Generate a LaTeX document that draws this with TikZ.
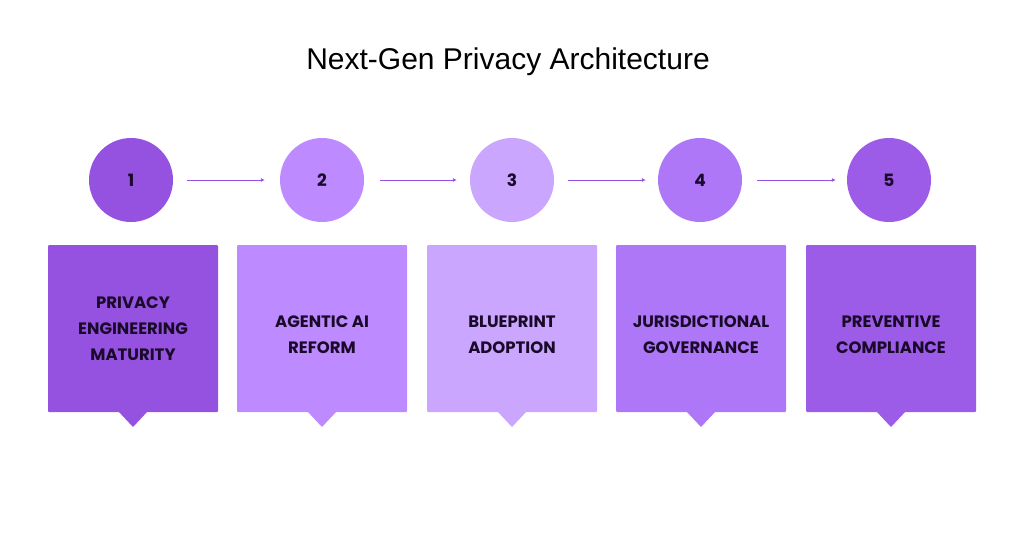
\documentclass[tikz,border=0pt]{standalone}
\usepackage{fontspec}
\setmainfont{Liberation Sans}
\newfontfamily\boxfont{Poppins}
\usetikzlibrary{arrows.meta}
\definecolor{c1}{HTML}{9552E0}
\definecolor{c2}{HTML}{BD8AFF}
\definecolor{c3}{HTML}{CBA6FF}
\definecolor{c4}{HTML}{AE77F8}
\definecolor{c5}{HTML}{9D5CE8}
\definecolor{ink}{HTML}{1A0A2A}
\begin{document}
\begin{tikzpicture}[x=1pt,y=-1pt,
  circ/.style={circle,minimum size=84pt,inner sep=0pt,font=\boxfont\bfseries\fontsize{17}{20}\selectfont,text=ink},
  card/.style={minimum width=170pt,minimum height=167pt,inner sep=0pt},
  lbl/.style={align=center,font=\boxfont\bfseries\fontsize{16.5}{26}\selectfont,text=ink},
  conn/.style={draw=c1,line width=1pt,-{Latex[length=4pt,width=4pt]}}]
\useasboundingbox (0,0) rectangle (1024,538);
\node[font=\fontsize{30}{34}\selectfont] (title) at (508,62) {Next-Gen Privacy Architecture};
\foreach \i/\cx/\bx/\c in {1/131/133/c1,2/322/322/c2,3/512/512/c3,4/700/701/c4,5/889/891/c5}{
  \node[circ,fill=\c] (n\i) at (\cx,180) {\i};
  \fill[\c,rounded corners=1pt] (\bx-85,245) rectangle (\bx+85,412);
  \fill[\c] (\bx-15,411) -- (\bx+15,411) -- (\bx,427) -- cycle;
  \node[card] (b\i) at (\bx,328.5) {};
}
\node[lbl] at (b1.center) {PRIVACY\\ENGINEERING\\MATURITY};
\node[lbl] at ([yshift=-6]b2.center) {AGENTIC AI\\REFORM};
\node[lbl] at ([yshift=-6]b3.center) {BLUEPRINT\\ADOPTION};
\node[lbl] at ([yshift=-6]b4.center) {JURISDICTIONAL\\GOVERNANCE};
\node[lbl] at ([yshift=-6]b5.center) {PREVENTIVE\\COMPLIANCE};
\draw[conn] ([xshift=14]n1.east) -- ([xshift=-15]n2.west);
\draw[conn] ([xshift=16]n2.east) -- ([xshift=-13]n3.west);
\draw[conn] ([xshift=14]n3.east) -- ([xshift=-12]n4.west);
\draw[conn] ([xshift=15]n4.east) -- ([xshift=-11]n5.west);
\end{tikzpicture}
\end{document}
